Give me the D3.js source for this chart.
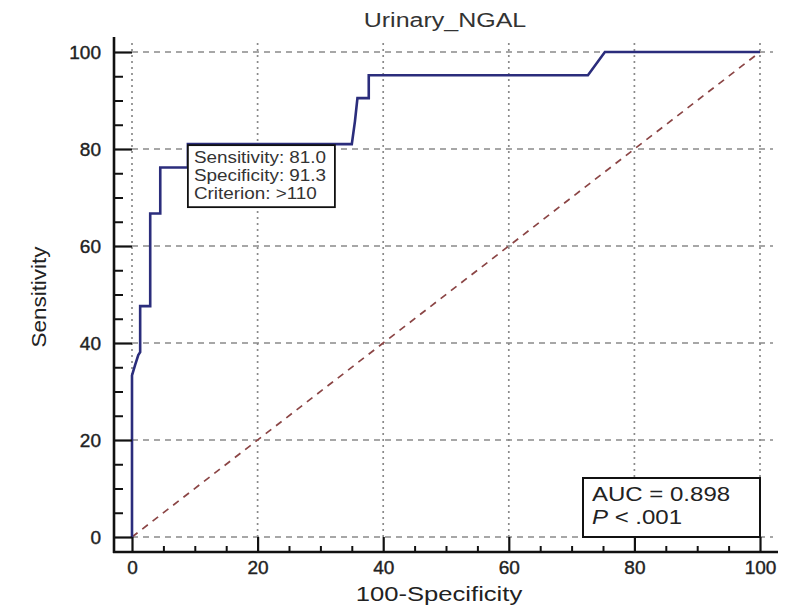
<!DOCTYPE html>
<html>
<head>
<meta charset="utf-8">
<script src="https://cdn.jsdelivr.net/npm/d3@7"></script>
<style>
  html, body { margin: 0; padding: 0; background: #fff; }
  svg text { font-family: "Liberation Sans", Arial, sans-serif; }
</style>
</head>
<body>
<div id="chart"></div>
<script>
// ROC curve points (100-Specificity, Sensitivity)
const fpr = [0, 0, 0.5, 1.0, 1.3, 1.3, 2.9, 2.9, 4.5, 4.5, 8.9, 8.9, 35.0, 35.5, 35.9, 37.7, 37.7, 72.6, 75.3, 100];
const tpr = [0, 33.3, 35.5, 37.5, 38.1, 47.6, 47.6, 66.7, 66.7, 76.2, 76.2, 81.0, 81.0, 85.7, 90.5, 90.5, 95.2, 95.2, 100, 100];

const xTicks = [0, 20, 40, 60, 80, 100];
const yTicks = [0, 20, 40, 60, 80, 100];
const minorTicks = [5, 10, 15, 25, 30, 35, 45, 50, 55, 65, 70, 75, 85, 90, 95];

const cutoff = [8.9, 81.0];
const cutoffLines = ["Sensitivity: 81.0", "Specificity: 91.3", "Criterion: >110"];
const aucValue = "0.898";
const pValue = ".001";

const title = "Urinary_NGAL";
const xLabel = "100-Specificity";
const yLabel = "Sensitivity";

(function () {
  const w = 794;
  const h = 606;

  const svg = d3.select("#chart")
    .append("svg")
    .attr("width", w)
    .attr("height", h);

  const x = d3.scaleLinear().domain([0, 100]).range([132, 760]);
  const y = d3.scaleLinear().domain([0, 100]).range([537, 52]);

  const axisX = 114;   // where the y axis line sits
  const axisY = 552;   // where the x axis line sits

  // the source picture is a bit wider than tall, so text is stretched sideways
  function stretch(sel, k) {
    sel.each(function () {
      const len = this.getComputedTextLength();
      d3.select(this)
        .attr("textLength", len * k)
        .attr("lengthAdjust", "spacingAndGlyphs");
    });
  }

  // grid - vertical dotted
  svg.append("g")
    .selectAll("line")
    .data(xTicks)
    .join("line")
      .attr("x1", d => x(d))
      .attr("x2", d => x(d))
      .attr("y1", y(0))
      .attr("y2", 40)
      .attr("stroke", "#8a8a8a")
      .attr("stroke-width", 1.7)
      .attr("stroke-dasharray", "2,4");

  // grid - horizontal dashed
  svg.append("g")
    .selectAll("line")
    .data(yTicks)
    .join("line")
      .attr("x1", x(0))
      .attr("x2", 773)
      .attr("y1", d => y(d))
      .attr("y2", d => y(d))
      .attr("stroke", "#8a8a8a")
      .attr("stroke-width", 1.4)
      .attr("stroke-dasharray", "6,5");

  // diagonal reference
  svg.append("line")
    .attr("x1", x(0)).attr("y1", y(0))
    .attr("x2", x(100)).attr("y2", y(100))
    .attr("stroke", "#8b4545")
    .attr("stroke-width", 1.7)
    .attr("stroke-dasharray", "7,6");

  // ROC curve
  const pts = fpr.map((d, i) => [d, tpr[i]]);
  svg.append("path")
    .datum(pts)
    .attr("fill", "none")
    .attr("stroke", "#2b2d7c")
    .attr("stroke-width", 2.6)
    .attr("d", d3.line().x(d => x(d[0])).y(d => y(d[1])));

  // axes
  const yAxis = d3.axisLeft(y)
    .tickValues(yTicks)
    .tickSizeInner(-(x(0) - axisX))
    .tickSizeOuter(0)
    .tickPadding(13);

  svg.append("g")
    .attr("transform", "translate(" + axisX + ",0)")
    .call(yAxis)
    .call(g => g.select(".domain").remove())
    .call(g => g.selectAll(".tick line").attr("stroke", "#111").attr("stroke-width", 2.2))
    .call(g => g.selectAll(".tick text")
      .attr("fill", "#222")
      .attr("stroke", "#222")
      .attr("stroke-width", 0.4)
      .style("font-size", "19px")
      .style("font-family", "Liberation Sans, Arial, sans-serif"));

  svg.append("g")
    .attr("transform", "translate(" + axisX + ",0)")
    .call(d3.axisLeft(y).tickValues(minorTicks).tickSizeInner(-9).tickSizeOuter(0).tickFormat(""))
    .call(g => g.select(".domain").remove())
    .call(g => g.selectAll(".tick line").attr("stroke", "#111").attr("stroke-width", 2));

  const xAxis = d3.axisBottom(x)
    .tickValues(xTicks)
    .tickSizeInner(-(axisY - y(0)))
    .tickSizeOuter(0)
    .tickPadding(9);

  svg.append("g")
    .attr("transform", "translate(0," + axisY + ")")
    .call(xAxis)
    .call(g => g.select(".domain").remove())
    .call(g => g.selectAll(".tick line").attr("stroke", "#111").attr("stroke-width", 2.2))
    .call(g => g.selectAll(".tick text")
      .attr("fill", "#222")
      .attr("stroke", "#222")
      .attr("stroke-width", 0.4)
      .style("font-size", "19px")
      .style("font-family", "Liberation Sans, Arial, sans-serif"));

  svg.append("g")
    .attr("transform", "translate(0," + axisY + ")")
    .call(d3.axisBottom(x).tickValues(minorTicks).tickSizeInner(-6).tickSizeOuter(0).tickFormat(""))
    .call(g => g.select(".domain").remove())
    .call(g => g.selectAll(".tick line").attr("stroke", "#111").attr("stroke-width", 2));

  // axis lines
  svg.append("line")
    .attr("x1", axisX).attr("x2", axisX)
    .attr("y1", 37).attr("y2", axisY + 1)
    .attr("stroke", "#111").attr("stroke-width", 2.6);
  svg.append("line")
    .attr("x1", axisX - 1).attr("x2", 778)
    .attr("y1", axisY).attr("y2", axisY)
    .attr("stroke", "#111").attr("stroke-width", 2.6);

  // cutoff annotation
  const bx = x(cutoff[0]);
  const by = y(cutoff[1]);
  svg.append("rect")
    .attr("x", bx).attr("y", by + 1)
    .attr("width", 147).attr("height", 62)
    .attr("fill", "#fff")
    .attr("stroke", "#111")
    .attr("stroke-width", 1.8);
  svg.append("g")
    .selectAll("text")
    .data(cutoffLines)
    .join("text")
      .attr("x", bx + 6)
      .attr("y", (d, i) => by + 19 + i * 18)
      .text(d => d)
      .style("font-size", "16px")
      .attr("fill", "#333")
      .call(stretch, 1.18);

  // AUC box
  const ax1 = 583, ay1 = 478;
  svg.append("rect")
    .attr("x", ax1).attr("y", ay1)
    .attr("width", x(100) - ax1).attr("height", y(0) - ay1)
    .attr("fill", "#fff")
    .attr("stroke", "#111")
    .attr("stroke-width", 2);
  svg.append("text")
    .attr("x", ax1 + 9).attr("y", ay1 + 23)
    .style("font-size", "20px")
    .attr("fill", "#222")
    .text("AUC = " + aucValue)
    .call(stretch, 1.2);
  const pt = svg.append("text")
    .attr("x", ax1 + 9).attr("y", ay1 + 46)
    .style("font-size", "20px")
    .attr("fill", "#222");
  pt.append("tspan").style("font-style", "italic").text("P");
  pt.append("tspan").text(" < " + pValue);
  pt.call(stretch, 1.2);

  // title and labels
  svg.append("text")
    .attr("x", 445).attr("y", 27)
    .attr("text-anchor", "middle")
    .style("font-size", "20px")
    .attr("fill", "#333")
    .text(title)
    .call(stretch, 1.25);

  svg.append("text")
    .attr("x", 439).attr("y", 601)
    .attr("text-anchor", "middle")
    .style("font-size", "20px")
    .attr("fill", "#222")
    .text(xLabel)
    .call(stretch, 1.28);

  svg.append("text")
    .attr("transform", "translate(46,297) rotate(-90)")
    .attr("text-anchor", "middle")
    .style("font-size", "20px")
    .attr("fill", "#222")
    .text(yLabel)
    .call(stretch, 1.12);
})();
</script>
</body>
</html>
